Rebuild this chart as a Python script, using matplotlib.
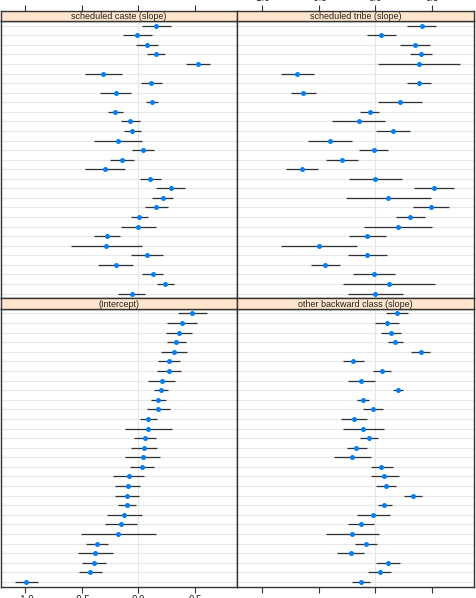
import numpy as np
import matplotlib
matplotlib.use('Agg')
import matplotlib.pyplot as plt

plt.rcParams['font.family'] = ['Liberation Sans', 'DejaVu Sans']

# rows listed top to bottom (29 groups), estimate and interval per panel
intercept = [0.477, 0.383, 0.359, 0.333, 0.312, 0.274, 0.268, 0.206, 0.200, 0.177,
             0.177, 0.088, 0.083, 0.059, 0.050, 0.039, 0.033, -0.088, -0.097, -0.100,
             -0.102, -0.124, -0.155, -0.179, -0.371, -0.382, -0.394, -0.426, -0.994]
intercept_lo = [0.353, 0.250, 0.244, 0.250, 0.198, 0.177, 0.165, 0.088, 0.139, 0.112,
                0.077, 0.015, -0.117, -0.041, -0.064, -0.117, -0.073, -0.221, -0.208, -0.206,
                -0.185, -0.279, -0.300, -0.512, -0.468, -0.538, -0.497, -0.530, -1.094]
intercept_hi = [0.604, 0.515, 0.471, 0.421, 0.427, 0.368, 0.374, 0.324, 0.265, 0.244,
                0.280, 0.162, 0.295, 0.159, 0.165, 0.194, 0.139, 0.048, 0.015, 0.006,
                -0.020, 0.030, -0.011, 0.159, -0.270, -0.226, -0.288, -0.320, -0.891]

sc = [0.156, -0.015, 0.074, 0.156, 0.524, -0.314, 0.115, -0.203, 0.118, -0.206,
      -0.073, -0.053, -0.185, 0.039, -0.147, -0.297, 0.106, 0.286, 0.215, 0.159,
      0.009, 0.000, -0.279, -0.288, 0.074, -0.203, 0.127, 0.238, -0.059]
sc_lo = [0.030, -0.141, -0.023, 0.077, 0.418, -0.477, 0.024, -0.341, 0.065, -0.267,
         -0.159, -0.124, -0.394, -0.059, -0.252, -0.477, 0.015, 0.156, 0.124, 0.056,
         -0.067, -0.153, -0.394, -0.600, -0.067, -0.356, 0.035, 0.168, -0.177]
sc_hi = [0.286, 0.118, 0.177, 0.238, 0.633, -0.150, 0.206, -0.064, 0.171, -0.138,
         0.015, 0.024, 0.030, 0.139, -0.041, -0.117, 0.198, 0.415, 0.306, 0.265,
         0.086, 0.156, -0.162, 0.030, 0.218, -0.050, 0.221, 0.312, 0.059]

st = [0.409, 0.053, 0.350, 0.400, 0.382, -0.688, 0.382, -0.635, 0.218, -0.050,
      -0.147, 0.153, -0.397, -0.015, -0.294, -0.644, -0.003, 0.515, 0.115, 0.488,
      0.306, 0.203, -0.071, -0.500, -0.071, -0.444, -0.012, 0.118, 0.000]
st_lo = [0.282, -0.071, 0.218, 0.303, 0.024, -0.835, 0.279, -0.747, 0.024, -0.135,
         -0.379, 0.006, -0.594, -0.141, -0.438, -0.785, -0.232, 0.338, -0.262, 0.335,
         0.179, -0.100, -0.235, -0.829, -0.241, -0.571, -0.194, -0.288, -0.241]
st_hi = [0.538, 0.182, 0.482, 0.500, 0.744, -0.544, 0.488, -0.524, 0.415, 0.035,
         0.085, 0.303, -0.203, 0.112, -0.150, -0.503, 0.232, 0.691, 0.494, 0.647,
         0.438, 0.503, 0.097, -0.165, 0.103, -0.309, 0.174, 0.524, 0.244]

obc = [0.194, 0.103, 0.138, 0.174, 0.403, -0.194, 0.056, -0.124, 0.203, -0.109,
       -0.021, -0.188, -0.106, -0.056, -0.168, -0.206, 0.053, 0.079, 0.094, 0.329,
       0.079, -0.018, -0.129, -0.203, -0.085, -0.218, 0.109, 0.038, -0.129]
obc_lo = [0.097, -0.006, 0.053, 0.109, 0.318, -0.285, -0.024, -0.244, 0.156, -0.165,
          -0.106, -0.303, -0.282, -0.135, -0.253, -0.365, -0.041, -0.041, 0.009, 0.250,
          0.021, -0.159, -0.238, -0.435, -0.176, -0.335, 0.003, -0.065, -0.209]
obc_hi = [0.291, 0.212, 0.226, 0.244, 0.485, -0.097, 0.138, -0.003, 0.247, -0.053,
          0.071, -0.071, 0.079, 0.026, -0.076, -0.041, 0.153, 0.206, 0.182, 0.412,
          0.144, 0.126, -0.015, 0.035, 0.012, -0.097, 0.215, 0.138, -0.047]

ticks = [-1.0, -0.5, 0.0, 0.5]
tick_labels = ['-1.0', '-0.5', '0.0', '0.5']
xlim = (-1.221, 0.872)

W, H = 477, 598
fig = plt.figure(figsize=(W / 100, H / 100), dpi=100)

frame_col = '#333333'


def fx(px):
    return px / W


def fy(py):
    return 1 - py / H


def panel(x0, x1, y_strip, y_top, y_bot, title, est, lo, hi, tick_side, show_labels):
    ax = fig.add_axes([fx(x0), fy(y_bot), fx(x1 - x0), fy(y_top) - fy(y_bot)])
    n = len(est)
    rows = np.arange(1, n + 1)
    for r in rows:
        ax.axhline(r, color='#e8e8e8', lw=0.8, zorder=1)
    ax.axvline(0, color='#e6e6e6', lw=0.8, zorder=1)
    ax.hlines(rows, lo, hi, color='#303030', lw=0.9, zorder=2)
    ax.plot(est, rows, 'o', color='#0080ff', ms=3.6, mec='none', zorder=3)
    ax.set_xlim(*xlim)
    ax.set_ylim(n + 0.5, 0.5)
    ax.set_yticks([])
    for s in ax.spines.values():
        s.set_color(frame_col)
        s.set_linewidth(1.0)

    sax = fig.add_axes([fx(x0), fy(y_top), fx(x1 - x0), fy(y_strip) - fy(y_top)])
    sax.set_facecolor('#ffe5cc')
    sax.set_xlim(*xlim)
    sax.set_yticks([])
    for s in sax.spines.values():
        s.set_color(frame_col)
        s.set_linewidth(1.0)
    sax.text(0.5, 0.45, title, transform=sax.transAxes, ha='center', va='center',
             fontsize=6.5, color='#222222')

    if tick_side == 'top':
        tax, other = sax, ax
        tax.xaxis.set_ticks_position('top')
    else:
        tax, other = ax, sax
        tax.xaxis.set_ticks_position('bottom')
    other.set_xticks([])
    tax.set_xticks(ticks)
    tax.set_xticklabels(tick_labels if show_labels else [''] * len(ticks))
    tax.tick_params(axis='x', length=4, width=0.8, color=frame_col,
                    labelsize=7, pad=2, labelcolor='#222222')


panel(0.5, 237, 11, 21, 298.3, 'scheduled caste (slope)', sc, sc_lo, sc_hi, 'top', False)
panel(237, 474, 11, 21, 298.3, 'scheduled tribe (slope)', st, st_lo, st_hi, 'top', True)
panel(0.5, 237, 298.3, 308.7, 586.7, '(Intercept)', intercept, intercept_lo, intercept_hi, 'bottom', True)
panel(237, 474, 298.3, 308.7, 586.7, 'other backward class (slope)', obc, obc_lo, obc_hi, 'bottom', False)

fig.savefig('out.png', dpi=100)
